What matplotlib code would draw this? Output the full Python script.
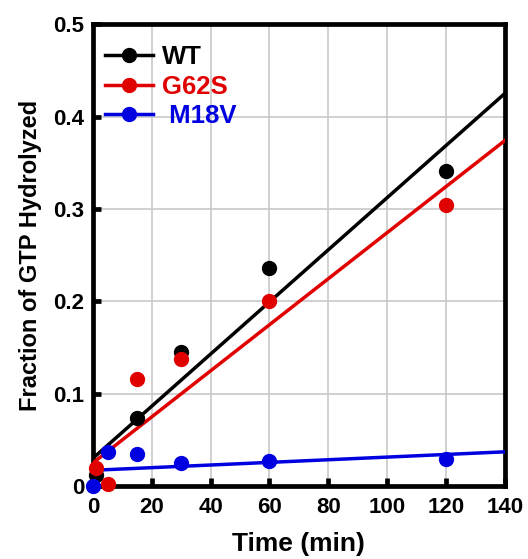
import numpy as np
import matplotlib.pyplot as plt

# Time points (min) and fraction of GTP hydrolyzed
wt_time = [1, 15, 30, 60, 120]
wt_frac = [0.012, 0.074, 0.145, 0.236, 0.341]

g62s_time = [1, 5, 15, 30, 60, 120]
g62s_frac = [0.020, 0.002, 0.116, 0.137, 0.200, 0.304]

m18v_time = [0, 5, 15, 30, 60, 120]
m18v_frac = [0.000, 0.037, 0.035, 0.025, 0.027, 0.029]

# linear fit endpoints (as drawn)
fit_time = [0, 140]
wt_fit = [0.030, 0.425]
g62s_fit = [0.025, 0.374]
m18v_fit = [0.017, 0.037]

plt.rcParams['font.family'] = ['Liberation Sans', 'DejaVu Sans']
plt.rcParams['font.weight'] = 'bold'

fig = plt.figure(figsize=(5.28, 5.59), dpi=100)
ax = fig.add_axes([0.176, 0.1306, 0.780, 0.826])

series = [
    ('WT', wt_time, wt_frac, wt_fit, 'black'),
    ('G62S', g62s_time, g62s_frac, g62s_fit, '#e00000'),
    (' M18V', m18v_time, m18v_frac, m18v_fit, '#0000e0'),
]

handles = []
for name, t, f, fit, col in series:
    ax.plot(t, f, 'o', color=col, markersize=10, clip_on=False, zorder=4)
    ax.plot(fit_time, fit, '-', color=col, linewidth=2.5, zorder=3)
    h, = ax.plot([], [], '-o', color=col, linewidth=2.5, markersize=10, label=name)
    handles.append(h)

ax.set_xlim(0, 140)
ax.set_ylim(0, 0.5)
ax.set_xticks(np.arange(0, 141, 20))
ax.set_yticks([0, 0.1, 0.2, 0.3, 0.4, 0.5])
ax.set_yticklabels(['0', '0.1', '0.2', '0.3', '0.4', '0.5'])
ax.grid(True, color='#c8c8c8', linewidth=1.2)
ax.set_axisbelow(True)

for sp in ax.spines.values():
    sp.set_linewidth(3.4)
ax.tick_params(direction='in', length=6, width=3.4, labelsize=16)
ax.tick_params(axis='x', pad=8)
ax.tick_params(axis='y', pad=6)
for lab in ax.get_xticklabels() + ax.get_yticklabels():
    lab.set_fontweight('bold')

ax.set_xlabel('Time (min)', fontsize=19, fontweight='bold', labelpad=10)
ax.set_ylabel('Fraction of GTP Hydrolyzed', fontsize=17, fontweight='bold', labelpad=8)

leg = ax.legend(handles=handles, loc='upper left', bbox_to_anchor=(0.029, 0.955),
                frameon=False, prop={'size': 18.5, 'weight': 'bold'},
                handlelength=1.86, handletextpad=0.35, labelspacing=0.22,
                borderpad=0, borderaxespad=0)
for txt, (_, _, _, _, col) in zip(leg.get_texts(), series):
    txt.set_color(col)

fig.savefig('out.png', dpi=100)
